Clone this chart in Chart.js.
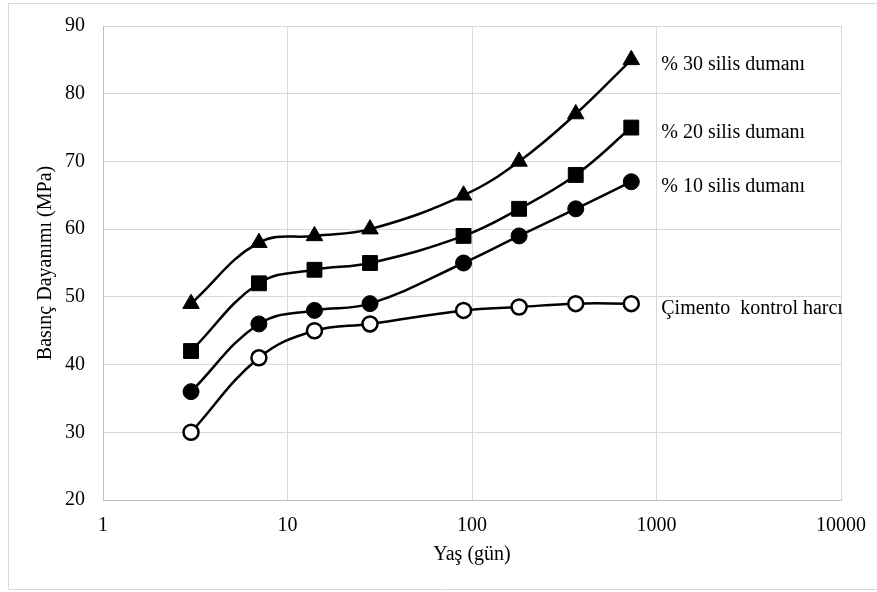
<!DOCTYPE html>
<html>
<head>
<meta charset="utf-8">
<script src="https://cdn.jsdelivr.net/npm/chart.js@4"></script>
<style>
  html, body { margin: 0; padding: 0; background: #fff; }
  #wrap { width: 877px; height: 592px; }
</style>
</head>
<body>
<div id="wrap"><canvas id="chart" width="877" height="592"></canvas></div>
<script>
'use strict'

// ages in days (log x axis)
const ages = [3, 7, 14, 28, 90, 180, 365, 730];
const xTicks = [1, 10, 100, 1000, 10000];

const silica30 = [49, 58, 59, 60, 65, 70, 77, 85];
const silica20 = [42, 52, 54, 55, 59, 63, 68, 75];
const silica10 = [36, 46, 48, 49, 55, 59, 63, 67];
const control = [30, 41, 45, 46, 48, 48.5, 49, 49];

const seriesNames = ['% 30 silis dumanı', '% 20 silis dumanı', '% 10 silis dumanı', 'Çimento  kontrol harcı'];

const FONT = "'Liberation Serif', 'Times New Roman', serif";

const toPoints = vals => vals.map((v, i) => ({ x: ages[i], y: v }));

const base = {
    borderColor: '#000',
    backgroundColor: '#000',
    pointBorderColor: '#000',
    borderWidth: 2.5,
    tension: 0.4,
    pointBorderWidth: 1
};

// draws the series name right of each last point, and the outer frame
const labelPlugin = {
    id: 'endLabels',
    beforeDraw(chart) {
        const ctx = chart.ctx;
        ctx.save();
        ctx.strokeStyle = '#d9d9d9';
        ctx.lineWidth = 1;
        ctx.beginPath();
        ctx.moveTo(900, 3.5);
        ctx.lineTo(8.5, 3.5);
        ctx.lineTo(8.5, 589.5);
        ctx.lineTo(900, 589.5);
        ctx.stroke();
        ctx.restore();
    },
    afterDatasetsDraw(chart) {
        const ctx = chart.ctx;
        ctx.save();
        ctx.font = '20px ' + FONT;
        ctx.fillStyle = '#000';
        ctx.textBaseline = 'middle';
        ctx.textAlign = 'left';
        chart.data.datasets.forEach((ds, i) => {
            const meta = chart.getDatasetMeta(i);
            const pt = meta.data[meta.data.length - 1];
            ctx.fillText(seriesNames[i], pt.x + 30, pt.y + 5);
        });
        ctx.restore();
    }
};

new Chart(document.getElementById('chart'), {
    type: 'line',
    data: {
        datasets: [
            { ...base, label: seriesNames[0], data: toPoints(silica30), pointStyle: 'triangle', pointRadius: 9.5 },
            { ...base, label: seriesNames[1], data: toPoints(silica20), pointStyle: 'rect', pointRadius: 10.5 },
            { ...base, label: seriesNames[2], data: toPoints(silica10), pointStyle: 'circle', pointRadius: 8 },
            { ...base, label: seriesNames[3], data: toPoints(control), pointStyle: 'circle', pointRadius: 7.5,
              pointBackgroundColor: '#fff', pointBorderWidth: 2.5 }
        ]
    },
    options: {
        responsive: false,
        animation: false,
        layout: { padding: { left: 0, right: 36, top: 26, bottom: 0 } },
        plugins: {
            legend: { display: false },
            tooltip: { enabled: false }
        },
        scales: {
            x: {
                type: 'logarithmic',
                min: 1,
                max: 10000,
                afterBuildTicks: s => { s.ticks = xTicks.map(v => ({ value: v })); },
                afterFit: s => { s.height = 92; s.paddingLeft = 0; s.paddingRight = 0; },
                ticks: {
                    color: '#000',
                    padding: 14,
                    font: { family: FONT, size: 20 },
                    callback: v => String(v)
                },
                grid: { color: '#d9d9d9', drawTicks: false },
                border: { color: '#bfbfbf' },
                title: {
                    display: true,
                    text: 'Yaş (gün)',
                    color: '#000',
                    font: { family: FONT, size: 20 },
                    padding: { top: 0, bottom: 25 }
                }
            },
            y: {
                min: 20,
                max: 90,
                afterFit: s => { s.width = 103; s.paddingTop = 0; s.paddingBottom = 0; },
                ticks: {
                    stepSize: 10,
                    color: '#000',
                    padding: 18,
                    font: { family: FONT, size: 20 }
                },
                grid: { color: '#d9d9d9', drawTicks: false },
                border: { color: '#bfbfbf' },
                title: {
                    display: true,
                    text: 'Basınç Dayanımı (MPa)',
                    color: '#000',
                    font: { family: FONT, size: 20 },
                    padding: { top: 34, bottom: 0 }
                }
            }
        }
    },
    plugins: [labelPlugin]
});
</script>
</body>
</html>
